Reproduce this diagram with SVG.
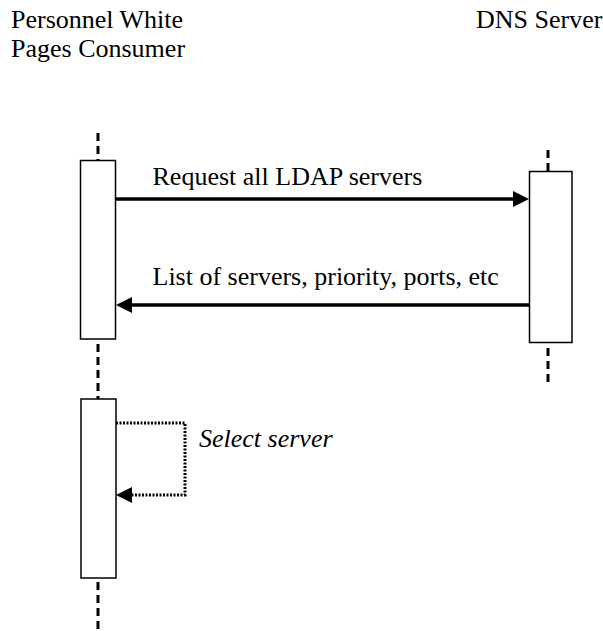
<svg xmlns="http://www.w3.org/2000/svg" width="603" height="631" viewBox="0 0 603 631">
  <style>
    text { font-family: 'Liberation Serif', 'Times New Roman', serif; font-size: 26px; fill: #000; }
    .i { font-style: italic; }
    .life { stroke: #000; stroke-width: 3; stroke-dasharray: 8 5; fill: none; }
    .act { fill: #fff; stroke: #000; stroke-width: 1.5; }
    .msg { stroke: #000; stroke-width: 3.5; fill: none; marker-end: url(#ah); }
    .self { stroke: #000; stroke-width: 3; stroke-dasharray: 2 1.5; fill: none; marker-end: url(#ah); }
  </style>
  <defs>
    <marker id="ah" viewBox="0 0 16 16" refX="8" refY="8" markerWidth="16" markerHeight="16" markerUnits="userSpaceOnUse" orient="auto">
      <path d="M0,0 L16,8 L0,16 Z" fill="#000"/>
    </marker>
  </defs>
  <rect width="603" height="631" fill="#fff"/>

  <g id="consumer">
    <text x="11" y="28">Personnel White</text>
    <text x="11" y="57">Pages Consumer</text>
    <line class="life" x1="98" y1="133" x2="98" y2="160"/>
    <line class="life" x1="98" y1="344" x2="98" y2="399"/>
    <line class="life" x1="98" y1="582" x2="98" y2="631"/>
    <rect class="act" x="80.5" y="160.5" width="35" height="178.5"/>
    <rect class="act" x="81" y="399" width="35" height="179"/>
  </g>

  <g id="dns">
    <text x="476" y="28">DNS Server</text>
    <line class="life" x1="548" y1="150" x2="548" y2="171"/>
    <line class="life" x1="548" y1="348" x2="548" y2="384"/>
    <rect class="act" x="529.5" y="171.5" width="42.5" height="171"/>
  </g>

  <g id="connectors">
    <path class="msg" d="M116,199 H521"/>
    <text x="152.5" y="185">Request all LDAP servers</text>
    <path class="msg" d="M529,305 H124"/>
    <text x="152.5" y="285">List of servers, priority, ports, etc</text>
    <path class="self" d="M116,423 H185 V495 H124"/>
    <text class="i" x="199" y="447">Select server</text>
  </g>
</svg>
